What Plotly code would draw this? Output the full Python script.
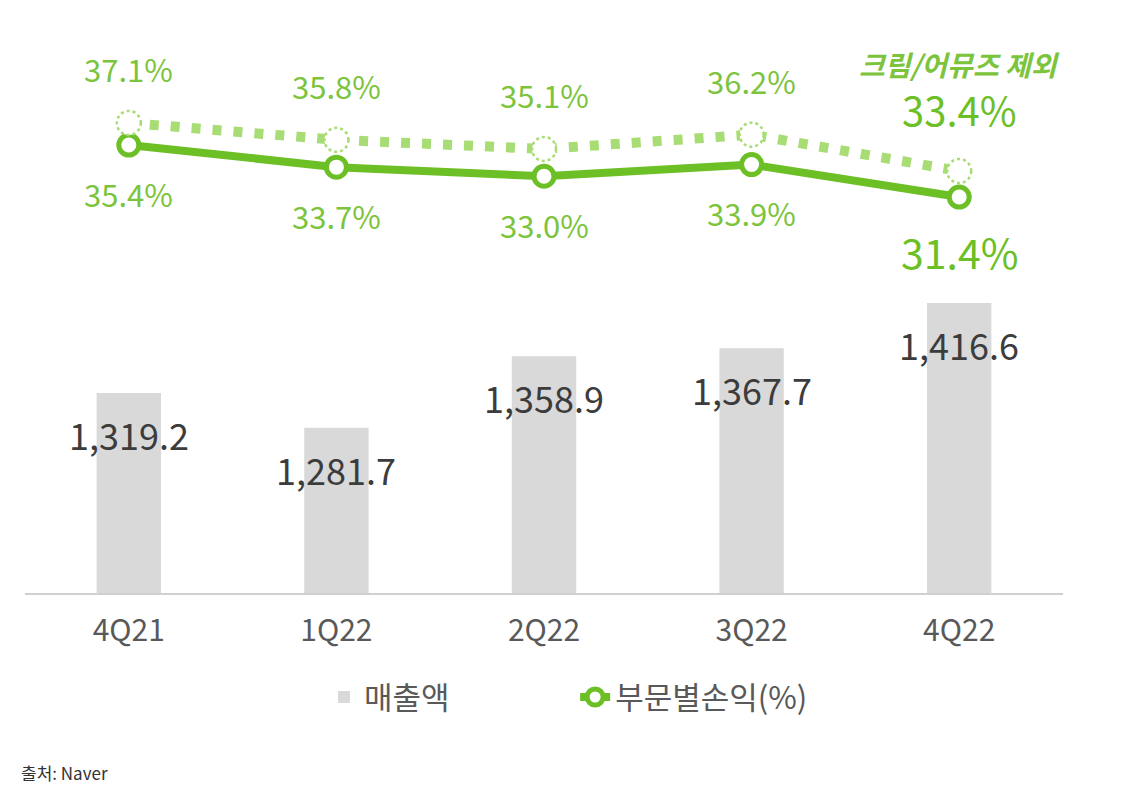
import plotly.graph_objects as go

categories = ["4Q21", "1Q22", "2Q22", "3Q22", "4Q22"]
revenue = [1319.2, 1281.7, 1358.9, 1367.7, 1416.6]
revenue_labels = ["1,319.2", "1,281.7", "1,358.9", "1,367.7", "1,416.6"]
margin = [35.4, 33.7, 33.0, 33.9, 31.4]
margin_ex = [37.1, 35.8, 35.1, 36.2, 33.4]

GREEN = "#6dbf26"
LIGHT_GREEN = "#a8dc74"
LABEL_GREEN = "#7cc43c"
BAR = "#d9d9d9"
FONT = "Noto Sans CJK KR"

fig = go.Figure()
fig.add_trace(go.Bar(
    x=categories, y=revenue, name="매출액",
    marker=dict(color=BAR, line=dict(width=0)),
    width=0.31, yaxis="y", hoverinfo="skip", legend="legend",
))
fig.add_trace(go.Scatter(
    x=categories, y=margin_ex, mode="lines", yaxis="y2",
    line=dict(color=LIGHT_GREEN, width=10, dash="9px,12px"),
    showlegend=False, hoverinfo="skip",
))
fig.add_trace(go.Scatter(
    x=categories, y=margin, mode="lines+markers", name="부문별손익(%)", yaxis="y2",
    line=dict(color=GREEN, width=8),
    marker=dict(symbol="circle", size=20, color="white", line=dict(color=GREEN, width=5)),
    hoverinfo="skip", legend="legend2",
))

shapes = []
annotations = []
n = len(categories)
for i, cat in enumerate(categories):
    shapes.append(dict(
        type="circle", xref="x", yref="y2", xsizemode="pixel", ysizemode="pixel",
        xanchor=i, yanchor=margin_ex[i], x0=-12, x1=12, y0=-12, y1=12,
        line=dict(color=LIGHT_GREEN, width=2.5, dash="dot"), fillcolor="white",
        layer="above",
    ))
    annotations.append(dict(
        x=cat, y=revenue[i], xref="x", yref="y", text=revenue_labels[i],
        showarrow=False, yshift=-41, font=dict(family=FONT, size=36, color="#3c3c3c"),
    ))
    last = (i == n - 1)
    annotations.append(dict(
        x=cat, y=margin[i], xref="x", yref="y2", text=f"{margin[i]:.1f}%",
        showarrow=False, yshift=-(54 if last else 48),
        font=dict(family=FONT, size=41 if last else 31, color=GREEN if last else LABEL_GREEN),
    ))
    annotations.append(dict(
        x=cat, y=margin_ex[i], xref="x", yref="y2", text=f"{margin_ex[i]:.1f}%",
        showarrow=False, yshift=(62 if last else 54),
        font=dict(family=FONT, size=40 if last else 31, color=GREEN if last else LABEL_GREEN),
    ))

annotations.append(dict(
    x=categories[-1], y=margin_ex[-1], xref="x", yref="y2", text="<b><i>크림/어뮤즈 제외</i></b>",
    showarrow=False, yshift=107, font=dict(family=FONT, size=28, color=LABEL_GREEN),
))
annotations.append(dict(
    x=0, y=0, xref="paper", yref="paper", xanchor="left", yanchor="bottom",
    text="출처: Naver", showarrow=False, xshift=-6, yshift=-194,
    font=dict(family=FONT, size=17, color="#333333"),
))

legend_font = dict(family=FONT, size=31, color="#595959")
fig.update_layout(
    width=1130, height=796,
    margin=dict(l=17, r=75, t=12, b=211),
    plot_bgcolor="white", paper_bgcolor="white",
    xaxis=dict(
        type="category", showgrid=False, showline=True, linecolor="#d0d0d0", linewidth=2,
        ticks="", tickfont=dict(family=FONT, size=30, color="#595959"),
        ticklabelstandoff=10,
    ),
    yaxis=dict(range=[1102.8, 1722.9], visible=False),
    yaxis2=dict(range=[0.94, 45.02], overlaying="y", visible=False),
    showlegend=True,
    legend=dict(
        orientation="h", x=0.288, xanchor="left", y=-0.135, yanchor="top",
        font=legend_font,
    ),
    legend2=dict(
        orientation="h", x=0.530, xanchor="left", y=-0.135, yanchor="top",
        font=legend_font,
    ),
    shapes=shapes, annotations=annotations,
)

fig.write_html("out.html")
